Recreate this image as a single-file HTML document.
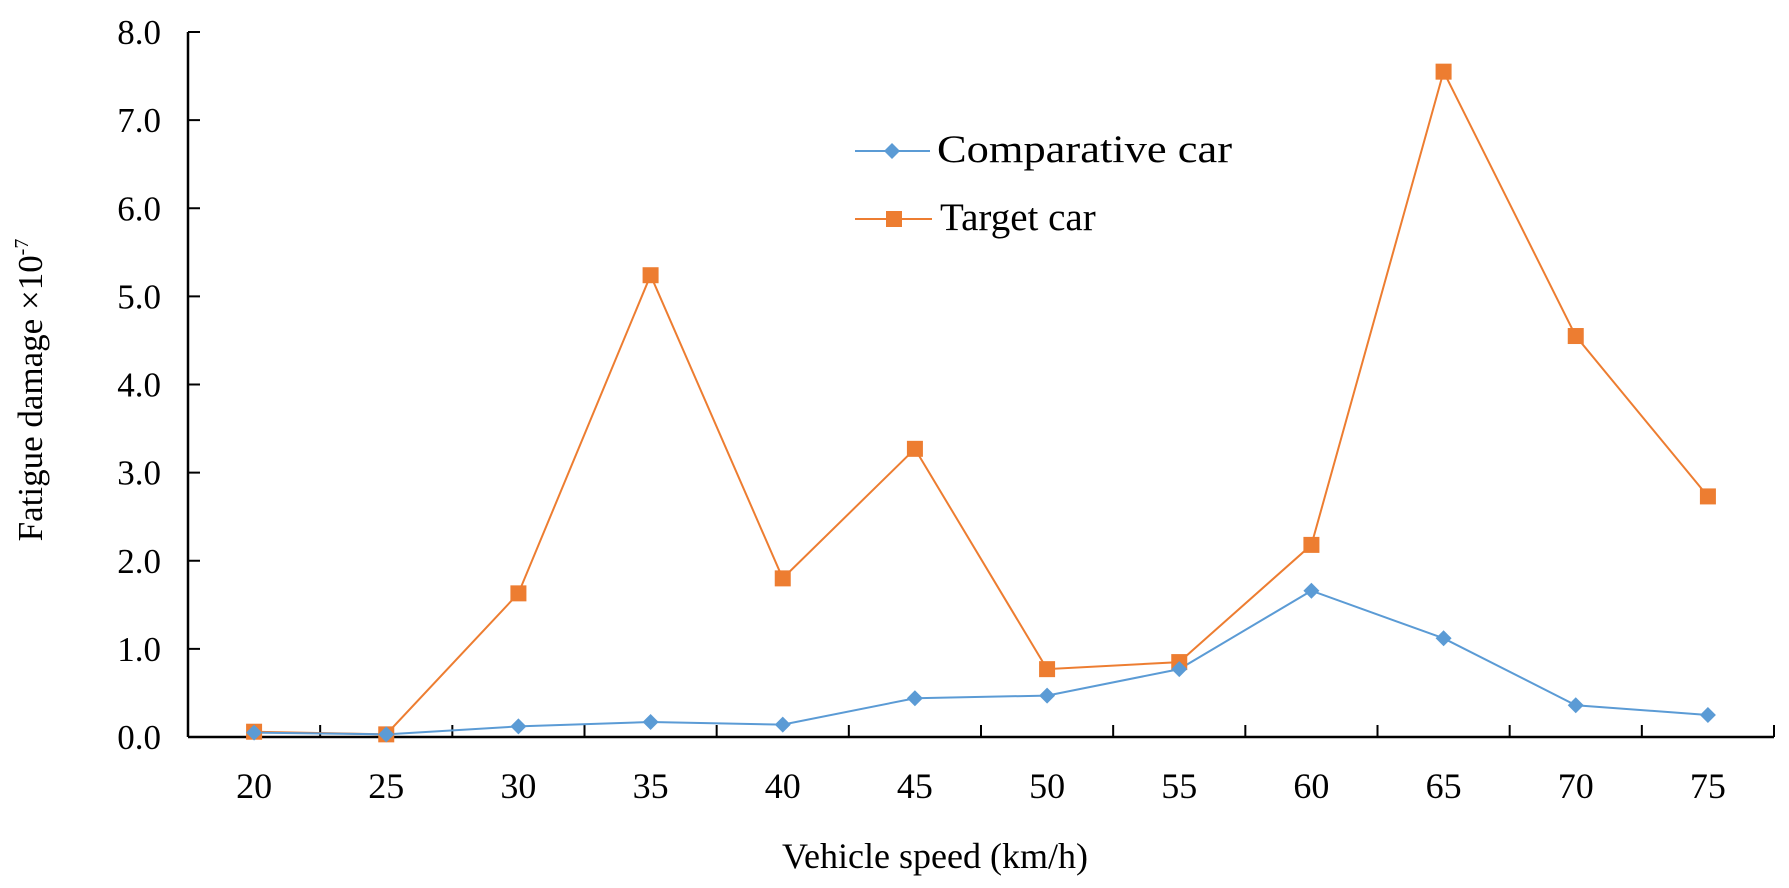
<!DOCTYPE html>
<html><head><meta charset="utf-8"><style>
html,body{margin:0;padding:0;background:#fff;}
svg{display:block;font-family:"Liberation Serif",serif;}
</style></head><body>
<svg id="chart" width="1789" height="888">
<g id="axes"></g>
<g id="series"></g>
<text x="42" y="390" font-size="35" text-anchor="middle" transform="rotate(-90 42 390)">Fatigue damage  ×10<tspan font-size="20" dy="-14">-7</tspan></text>
<text x="935" y="868" font-size="36" text-anchor="middle">Vehicle speed (km/h)</text>
<g>
<g>
<line x1="855" y1="151" x2="930" y2="151" stroke="#5b9bd5" stroke-width="2"/>
<path d="M892,143 L900,151 L892,159 L884,151Z" fill="#5b9bd5"/>
<text x="937" y="162" font-size="39" textLength="295" lengthAdjust="spacingAndGlyphs">Comparative car</text></g>
<g>
<line x1="855" y1="219" x2="932" y2="219" stroke="#ed7d31" stroke-width="2"/>
<rect x="886" y="211" width="16" height="16" fill="#ed7d31"/>
<text x="940" y="230" font-size="39">Target car</text></g>
</g>
</svg>
<script>
const categories=[20,25,30,35,40,45,50,55,60,65,70,75];
const comparative=[0.05,0.03,0.12,0.17,0.14,0.44,0.47,0.77,1.66,1.12,0.36,0.25];
const target=[0.06,0.03,1.63,5.24,1.80,3.27,0.77,0.85,2.18,7.55,4.55,2.73];
const yTicks=[0,1,2,3,4,5,6,7,8];
const NS="http://www.w3.org/2000/svg";
const X0=188,X1=1774,Y0=737,Y1=32,YMAX=8;
const bw=(X1-X0)/categories.length;
const xs=i=>X0+bw*(i+0.5);
const ys=v=>Y0-(v/YMAX)*(Y0-Y1);
function mk(t,a,p){const e=document.createElementNS(NS,t);for(const k in a)e.setAttribute(k,a[k]);p.appendChild(e);return e;}
const ax=document.getElementById('axes');
let e=mk('line',{x1:X0,y1:Y1,x2:X0,y2:Y0,stroke:'#000','stroke-width':2.5},ax);


e=mk('line',{x1:X0,y1:Y0,x2:X1,y2:Y0,stroke:'#000','stroke-width':2.5},ax);


yTicks.forEach(v=>{
 mk('line',{x1:X0,y1:ys(v),x2:X0+12,y2:ys(v),stroke:'#000','stroke-width':2},ax);
 const t=mk('text',{x:161,y:ys(v)+12,'font-size':35,'text-anchor':'end'},ax);
 t.textContent=v.toFixed(1);
 
 
});
for(let i=0;i<=categories.length;i++){
 mk('line',{x1:X0+bw*i,y1:Y0,x2:X0+bw*i,y2:Y0-12,stroke:'#000','stroke-width':2},ax);
}
categories.forEach((c,i)=>{
 const t=mk('text',{x:xs(i),y:798,'font-size':36,'text-anchor':'middle'},ax);
 t.textContent=c;
 
 
});
const sg=document.getElementById('series');
function line(vals,color,name){
 const p=mk('polyline',{points:vals.map((v,i)=>xs(i)+','+ys(v)).join(' '),fill:'none',stroke:color,'stroke-width':2},sg);
 
 
}
line(target,'#ed7d31','target');
line(comparative,'#5b9bd5','comparative');
target.forEach((v,i)=>{
 const r=mk('rect',{x:xs(i)-8,y:ys(v)-8,width:16,height:16,fill:'#ed7d31'},sg);
 
 
});
comparative.forEach((v,i)=>{
 const x=xs(i),y=ys(v);
 const p=mk('path',{d:`M${x},${y-8}L${x+8},${y}L${x},${y+8}L${x-8},${y}Z`,fill:'#5b9bd5'},sg);
 
 
});
</script>
</body></html>
